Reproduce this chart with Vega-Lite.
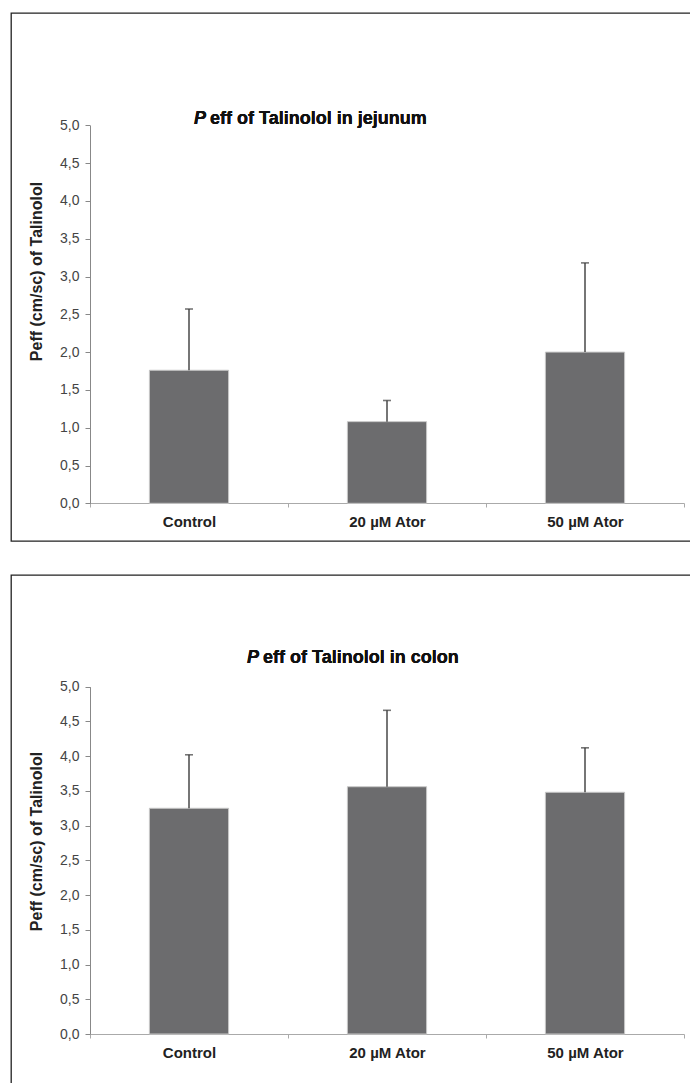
{
  "$schema": "https://vega.github.io/schema/vega-lite/v6.json",
  "padding": {"left": 10, "top": 12, "right": 0, "bottom": 0},
  "spacing": 34,
  "bounds": "flush",
  "config": {
    "view": {"stroke": "#222222", "strokeWidth": 1.3},
    "font": "Liberation Sans"
  },
  "datasets": {
    "jejunum": [
      {"group": "Control", "mean": 1.76, "upper": 2.57},
      {"group": "20 µM Ator", "mean": 1.08, "upper": 1.36},
      {"group": "50 µM Ator", "mean": 2.0, "upper": 3.18}
    ],
    "colon": [
      {"group": "Control", "mean": 3.25, "upper": 4.02},
      {"group": "20 µM Ator", "mean": 3.56, "upper": 4.66},
      {"group": "50 µM Ator", "mean": 3.48, "upper": 4.12}
    ]
  },
  "vconcat": [
    {
      "width": 690,
      "height": 528,
      "data": {"name": "jejunum"},
      "encoding": {
        "x": {
          "field": "group", "type": "nominal",
          "scale": {"domain": ["Control", "20 µM Ator", "50 µM Ator"], "range": [79, 673], "paddingInner": 0, "paddingOuter": 0},
          "axis": {"title": null, "orient": "bottom", "offset": -38, "tickBand": "extent", "labelAngle": 0, "labelFontWeight": "bold", "labelFontSize": 15, "labelColor": "#222222", "labelPadding": 7, "tickSize": 4, "tickColor": "#aaaaaa", "domainColor": "#aaaaaa"}
        }
      },
      "layer": [
        {
          "mark": {"type": "bar", "width": {"band": 0.4}, "fill": "#6c6c6e", "stroke": "#c8c8c8", "strokeWidth": 1},
          "encoding": {
            "y": {
              "field": "mean", "type": "quantitative",
              "scale": {"domain": [0, 5], "range": [490.3, 112.3], "nice": false},
              "axis": {"title": "Peff (cm/sc) of Talinolol", "offset": -79, "values": [0, 0.5, 1, 1.5, 2, 2.5, 3, 3.5, 4, 4.5, 5], "labelExpr": "replace(format(datum.value,'.1f'),'.',',')", "labelFontSize": 14, "labelColor": "#444444", "labelPadding": 6, "tickSize": 5, "tickColor": "#888888", "domainColor": "#888888", "grid": false, "titleFontSize": 16, "titleFontWeight": "bold", "titleColor": "#222222", "titleAngle": 270, "titleBaseline": "bottom", "titleX": -46, "titleY": 258}
            }
          }
        },
        {
          "mark": {"type": "rule", "color": "#3c3c3c", "strokeWidth": 1.4},
          "encoding": {"y": {"field": "mean", "type": "quantitative"}, "y2": {"field": "upper"}}
        },
        {
          "mark": {"type": "tick", "orient": "horizontal", "color": "#3c3c3c", "thickness": 1.6, "size": 8},
          "encoding": {"y": {"field": "upper", "type": "quantitative"}}
        },
        {
          "mark": {"type": "text", "text": "P", "align": "left", "baseline": "middle", "fontStyle": "italic", "fontWeight": "bold", "fontSize": 18, "color": "#111111", "dx": 5},
          "encoding": {"x": {"datum": "Control"}, "y": {"datum": 5.08, "type": "quantitative"}}
        },
        {
          "mark": {"type": "text", "text": "eff of Talinolol in jejunum", "align": "left", "baseline": "middle", "fontWeight": "bold", "fontSize": 18, "color": "#111111", "dx": 21},
          "encoding": {"x": {"datum": "Control"}, "y": {"datum": 5.08, "type": "quantitative"}}
        }
      ]
    },
    {
      "width": 690,
      "height": 520,
      "data": {"name": "colon"},
      "encoding": {
        "x": {
          "field": "group", "type": "nominal",
          "scale": {"domain": ["Control", "20 µM Ator", "50 µM Ator"], "range": [79, 673], "paddingInner": 0, "paddingOuter": 0},
          "axis": {"title": null, "orient": "bottom", "offset": -61, "tickBand": "extent", "labelAngle": 0, "labelFontWeight": "bold", "labelFontSize": 15, "labelColor": "#222222", "labelPadding": 7, "tickSize": 4, "tickColor": "#aaaaaa", "domainColor": "#aaaaaa"}
        }
      },
      "layer": [
        {
          "mark": {"type": "bar", "width": {"band": 0.4}, "fill": "#6c6c6e", "stroke": "#c8c8c8", "strokeWidth": 1},
          "encoding": {
            "y": {
              "field": "mean", "type": "quantitative",
              "scale": {"domain": [0, 5], "range": [459, 111.7], "nice": false},
              "axis": {"title": "Peff (cm/sc) of Talinolol", "offset": -79, "values": [0, 0.5, 1, 1.5, 2, 2.5, 3, 3.5, 4, 4.5, 5], "labelExpr": "replace(format(datum.value,'.1f'),'.',',')", "labelFontSize": 14, "labelColor": "#444444", "labelPadding": 6, "tickSize": 5, "tickColor": "#888888", "domainColor": "#888888", "grid": false, "titleFontSize": 16, "titleFontWeight": "bold", "titleColor": "#222222", "titleAngle": 270, "titleBaseline": "bottom", "titleX": -46, "titleY": 266}
            }
          }
        },
        {
          "mark": {"type": "rule", "color": "#3c3c3c", "strokeWidth": 1.4},
          "encoding": {"y": {"field": "mean", "type": "quantitative"}, "y2": {"field": "upper"}}
        },
        {
          "mark": {"type": "tick", "orient": "horizontal", "color": "#3c3c3c", "thickness": 1.6, "size": 8},
          "encoding": {"y": {"field": "upper", "type": "quantitative"}}
        },
        {
          "mark": {"type": "text", "text": "P", "align": "left", "baseline": "middle", "fontStyle": "italic", "fontWeight": "bold", "fontSize": 18, "color": "#111111", "dx": 58},
          "encoding": {"x": {"datum": "Control"}, "y": {"datum": 5.41, "type": "quantitative"}}
        },
        {
          "mark": {"type": "text", "text": "eff of Talinolol in colon", "align": "left", "baseline": "middle", "fontWeight": "bold", "fontSize": 18, "color": "#111111", "dx": 74},
          "encoding": {"x": {"datum": "Control"}, "y": {"datum": 5.41, "type": "quantitative"}}
        }
      ]
    }
  ]
}
